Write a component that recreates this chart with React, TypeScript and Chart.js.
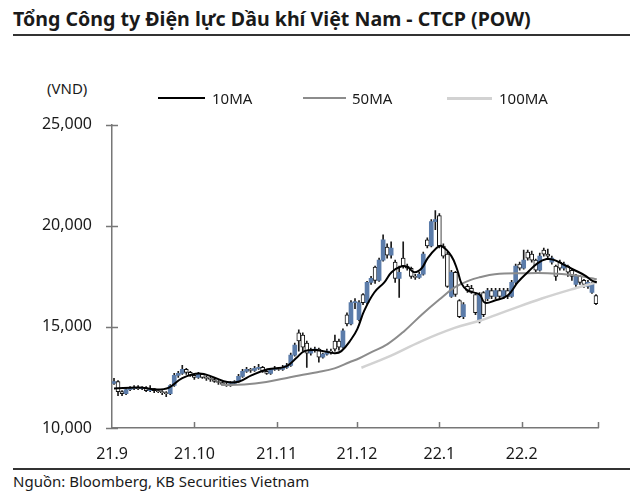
import React, { useEffect, useRef } from 'react';
import { Chart, registerables } from 'chart.js';

Chart.register(...registerables);

const TITLE = 'Tổng Công ty Điện lực Dầu khí Việt Nam - CTCP (POW)';
const SOURCE = 'Nguồn: Bloomberg, KB Securities Vietnam';
const UNIT = '(VND)';

// x axis: trading-day index; month boundaries
const monthTickPos = [-0.5, 20, 40.5, 60.5, 81, 101.5, 120.5];
const monthLabels = ['21.9', '21.10', '21.11', '21.12', '22.1', '22.2', ''];
const yTicks = [10000, 15000, 20000, 25000];

// daily candles (index 0..120)
const openP = [
  12200, 12300, 11800, 11700, 11900, 11950, 12000, 11950, 12000, 11850,
  11950, 11850, 11800, 11750, 11700, 12100, 12600, 12700, 12900, 12750,
  12600, 12500, 12650, 12500, 12450, 12400, 12300, 12250, 12150, 12100,
  12200, 12300, 12550, 12800, 12900, 12850, 12950, 13000, 12800, 12700,
  12900, 12950, 12900, 13000, 13100, 13600, 14700, 14600, 14200, 13700,
  13850, 13900, 13500, 13650, 13800, 14300, 14300, 14000, 15600, 15150,
  16200, 15350, 16600, 16200, 17200, 17950, 17300, 18300, 18950, 18550,
  18200, 17400, 18400, 18000, 17900, 17500, 17450, 17600, 19300, 19000,
  20200, 20500, 19000, 18600, 16500, 17700, 16300, 15500, 17000, 16900,
  16600, 15300, 16700, 16400, 16800, 16500, 16800, 16500, 16800, 16500,
  17200, 18100, 17900, 18700, 18600, 18300, 17800, 18800, 18600, 18200,
  18000, 18200, 17900, 18000, 17800, 17100, 17500, 17300, 17000, 16700,
  16550,
];
const closeP = [
  12300, 11800, 11700, 11900, 11950, 12000, 11950, 12000, 11850, 11950,
  11850, 11800, 11750, 11700, 12100, 12600, 12700, 12900, 12750, 12600,
  12500, 12650, 12500, 12450, 12400, 12300, 12250, 12150, 12100, 12200,
  12300, 12550, 12800, 12900, 12850, 12950, 13000, 12800, 12700, 12900,
  12950, 12900, 13000, 13100, 13600, 14100, 14300, 14000, 13700, 13850,
  13900, 13500, 13650, 13800, 13750, 13900, 14000, 14800, 15150, 16200,
  16250, 16200, 16200, 17200, 17400, 17300, 18300, 19300, 18550, 18900,
  17400, 17700, 18000, 17900, 17500, 17450, 17600, 18600, 19000, 20200,
  20300, 19000, 18500, 17000, 17700, 16600, 15500, 16100, 16800, 16750,
  15700, 16600, 15600, 16800, 16500, 16800, 16500, 16800, 16500, 17200,
  18000, 17900, 18300, 18400, 18300, 17800, 18500, 18600, 18500, 18400,
  17500, 17900, 18100, 17700, 17500, 17500, 17200, 17100, 17200, 17100,
  16150,
];
const highP = [
  12450, 12350, 11850, 11950, 12050, 12100, 12100, 12050, 12050, 12100,
  11950, 11900, 11850, 11800, 12150, 12700, 12800, 13100, 12950, 12800,
  12700, 12750, 12700, 12550, 12500, 12450, 12350, 12300, 12250, 12300,
  12350, 12650, 12900, 13000, 12950, 13050, 13150, 13050, 12850, 12950,
  13050, 13000, 13100, 13200, 13700, 14200, 14850, 14700, 14300, 13950,
  14000, 13950, 13700, 13900, 13900, 14600, 14400, 14900, 15700, 16300,
  16400, 16300, 16650, 17250, 17500, 18000, 18400, 19550, 19100, 19200,
  18300, 18000, 19200, 18100, 17950, 17600, 17700, 18700, 19400, 20300,
  20750, 20600, 19100, 18700, 17800, 17750, 16350, 16200, 17100, 17050,
  16700, 16700, 16750, 16900, 16900, 16900, 16900, 16900, 16900, 17300,
  18100, 18200, 18800, 18800, 18750, 18350, 18650, 18900, 18850, 18500,
  18050, 18300, 18200, 18050, 17900, 17600, 17550, 17350, 17300, 17200,
  16600,
];
const lowP = [
  12150, 11600, 11600, 11650, 11850, 11900, 11900, 11900, 11800, 11800,
  11750, 11750, 11650, 11550, 11650, 12050, 12500, 12650, 12650, 12550,
  12400, 12450, 12450, 12350, 12300, 12250, 12150, 12100, 12050, 12050,
  12150, 12250, 12500, 12750, 12750, 12800, 12900, 12750, 12650, 12650,
  12850, 12850, 12850, 12950, 13050, 13550, 13800, 13800, 13000, 13600,
  13750, 13250, 13450, 13600, 13650, 13800, 13850, 13950, 15050, 15100,
  15900, 15300, 16100, 16150, 17100, 17150, 17250, 18250, 18400, 18400,
  17200, 16450, 17900, 17800, 17400, 17350, 17400, 17550, 18900, 18950,
  19800, 18900, 18400, 16950, 16450, 16500, 15450, 15400, 16700, 16650,
  15600, 15200, 15500, 16300, 16400, 16400, 16400, 16400, 16400, 16450,
  17100, 17800, 17850, 18300, 18200, 17700, 17750, 18500, 18400, 18100,
  17300, 17800, 17800, 17500, 17300, 17000, 17100, 16950, 16900, 16650,
  16100,
];

// moving averages as [trading-day index, price]
const ma10 = [
  [0, 11950], [6.2, 12000], [10.7, 11900], [13.7, 12000], [17, 12470],
  [21.2, 12700], [24.9, 12500], [28.2, 12270], [31.2, 12300], [34.2, 12600],
  [38.2, 12900], [42.9, 13050], [45.6, 13500], [47.4, 13800], [50.6, 13850],
  [54.9, 13700], [56.6, 13800], [59.1, 14400], [60.6, 14900], [62.3, 15800],
  [64.8, 16700], [67.3, 17200], [69.1, 17700], [71.6, 18000], [73.1, 17950],
  [74.8, 17700], [76.6, 17900], [78.1, 18400], [80.3, 18900], [81.5, 19000],
  [84, 18500], [85.5, 17800], [86.5, 17150], [88, 16800], [91, 16600],
  [92.3, 16200], [94.8, 16300], [98, 16550], [100.5, 17200], [103, 17700],
  [105.5, 18150], [107.7, 18350], [109.7, 18300], [112.2, 18050], [114.7, 17800],
  [117.2, 17550], [118.9, 17300], [120.2, 17200],
];
const ma50 = [
  [26.7, 12120], [32.4, 12150], [37.9, 12270], [42.4, 12450], [46.1, 12600],
  [50.6, 12760], [54.9, 12950], [58.6, 13250], [61.1, 13450], [64.1, 13750],
  [68.1, 14150], [72.3, 14800], [76.6, 15600], [81, 16350], [84.8, 16950],
  [88.5, 17300], [91, 17450], [94.8, 17600], [102.2, 17650], [108, 17650],
  [114.7, 17550], [118.9, 17400], [120.2, 17350],
];
const ma100 = [
  [61.6, 12980], [68.1, 13500], [76.6, 14300], [84.8, 14950], [91, 15300],
  [98, 15800], [106.5, 16400], [114.7, 16900], [120.2, 17200],
];

const BLUE = '#5b7caa';
const AXIS = '#777777';
const TEXT = '#1a1a1a';
const FONT = "'Noto Sans', sans-serif";

const tickMarks = {
  id: 'tickMarks',
  afterDraw(chart: any) {
    const { ctx, chartArea } = chart;
    const x = chart.scales.x;
    const y = chart.scales.y;
    ctx.save();
    ctx.strokeStyle = AXIS;
    ctx.lineWidth = 1.5;
    ctx.beginPath();
    yTicks.forEach((v) => {
      const py = Math.round(y.getPixelForValue(v)) + 0.5;
      ctx.moveTo(chartArea.left - 6, py);
      ctx.lineTo(chartArea.left + 6, py);
    });
    monthTickPos.forEach((v, i) => {
      if (i === 0) return;
      const px = Math.round(x.getPixelForValue(v)) + 0.5;
      ctx.moveTo(px, chartArea.bottom);
      ctx.lineTo(px, chartArea.bottom - 6);
    });
    ctx.stroke();
    ctx.restore();
  },
};

function CandleChart() {
  const ref = useRef<HTMLCanvasElement | null>(null);
  useEffect(() => {
    if (!ref.current) return;
    const idx = closeP.map((_, i) => i);
    const up = idx.map((i) => closeP[i] >= openP[i]);
    const chart = new Chart(ref.current, {
      type: 'bar',
      data: {
        datasets: [
          {
            type: 'line',
            label: '10MA',
            data: ma10.map(([x, y]) => ({ x, y })),
            borderColor: '#000000',
            borderWidth: 2,
            pointRadius: 0,
            tension: 0.4,
            order: 0,
          } as any,
          {
            type: 'line',
            label: '50MA',
            data: ma50.map(([x, y]) => ({ x, y })),
            borderColor: '#8c8c8c',
            borderWidth: 2,
            pointRadius: 0,
            tension: 0.4,
            order: 1,
          } as any,
          {
            type: 'line',
            label: '100MA',
            data: ma100.map(([x, y]) => ({ x, y })),
            borderColor: '#d2d2d2',
            borderWidth: 2.5,
            pointRadius: 0,
            tension: 0.4,
            order: 2,
          } as any,
          {
            type: 'bar',
            label: 'body',
            data: idx.map((i) => ({ x: i, y: [Math.min(openP[i], closeP[i]), Math.max(openP[i], closeP[i])] })),
            backgroundColor: up.map((u) => (u ? BLUE : '#ffffff')),
            borderColor: up.map((u) => (u ? BLUE : '#111111')),
            borderWidth: up.map((u) => (u ? 0 : 1)),
            borderSkipped: false,
            barThickness: 4,
            grouped: false,
            order: 3,
          } as any,
          {
            type: 'bar',
            label: 'wick',
            data: idx.map((i) => ({ x: i, y: [lowP[i], highP[i]] })),
            backgroundColor: '#1a1a1a',
            borderWidth: 0,
            barThickness: 1,
            grouped: false,
            order: 4,
          } as any,
        ],
      },
      options: {
        animation: false,
        responsive: false,
        maintainAspectRatio: false,
        layout: { padding: { left: 0, right: 42, top: 13, bottom: 0 } },
        plugins: { legend: { display: false }, tooltip: { enabled: false } },
        scales: {
          x: {
            type: 'linear',
            offset: false,
            min: -0.5,
            max: 120.5,
            afterBuildTicks: (s: any) => {
              s.ticks = monthTickPos.map((v) => ({ value: v }));
            },
            afterFit: (s: any) => {
              s.height = 32;
            },
            ticks: {
              autoSkip: false,
              maxRotation: 0,
              padding: 17,
              color: TEXT,
              font: { family: FONT, size: 16 },
              callback: (_v: any, i: number) => monthLabels[i],
            },
            grid: { display: false, drawTicks: false, offset: false },
            border: { display: true, color: AXIS, width: 1.5 },
          },
          y: {
            type: 'linear',
            min: 10000,
            max: 25000,
            afterBuildTicks: (s: any) => {
              s.ticks = yTicks.map((v) => ({ value: v }));
            },
            afterFit: (s: any) => {
              s.width = 112;
            },
            ticks: {
              padding: 20,
              color: TEXT,
              font: { family: FONT, size: 16 },
              callback: (v: any) => Number(v).toLocaleString('en-US'),
            },
            grid: { display: false, drawTicks: false },
            border: { display: true, color: AXIS, width: 1.5 },
          },
        },
      } as any,
      plugins: [tickMarks],
    });
    return () => chart.destroy();
  }, []);
  return <canvas ref={ref} width={640} height={365} style={{ position: 'absolute', left: 0, top: 95, width: 640, height: 365 }} />;
}

const legendItems = [
  { label: '10MA', color: '#000000', lineLeft: 158, lineWidth: 47, textLeft: 212, h: 2.5 },
  { label: '50MA', color: '#8c8c8c', lineLeft: 303, lineWidth: 43, textLeft: 352, h: 2.5 },
  { label: '100MA', color: '#d2d2d2', lineLeft: 447, lineWidth: 45, textLeft: 499, h: 3 },
];

export default function App() {
  return (
    <div style={{ position: 'fixed', left: 0, top: 0, width: 640, height: 498, background: '#fff', fontFamily: FONT, color: TEXT, overflow: 'hidden' }}>
      <div style={{ position: 'absolute', left: 13, top: 3, fontSize: 19.6, fontWeight: 700, whiteSpace: 'nowrap', lineHeight: '32px' }}>{TITLE}</div>
      <div style={{ position: 'absolute', left: 13, top: 34, width: 617, height: 2, background: '#333' }} />
      <div style={{ position: 'absolute', left: 47, top: 78, fontSize: 15, lineHeight: '20px' }}>{UNIT}</div>
      <CandleChart />
      {legendItems.map((it) => (
        <React.Fragment key={it.label}>
          <div style={{ position: 'absolute', left: it.lineLeft, top: 98 - it.h / 2, width: it.lineWidth, height: it.h, background: it.color }} />
          <div style={{ position: 'absolute', left: it.textLeft, top: 88, fontSize: 15, lineHeight: '20px' }}>{it.label}</div>
        </React.Fragment>
      ))}
      <div style={{ position: 'absolute', left: 13, top: 468, width: 617, height: 1.5, background: '#333' }} />
      <div style={{ position: 'absolute', left: 13, top: 471, fontSize: 15, lineHeight: '20px', whiteSpace: 'nowrap' }}>{SOURCE}</div>
    </div>
  );
}
